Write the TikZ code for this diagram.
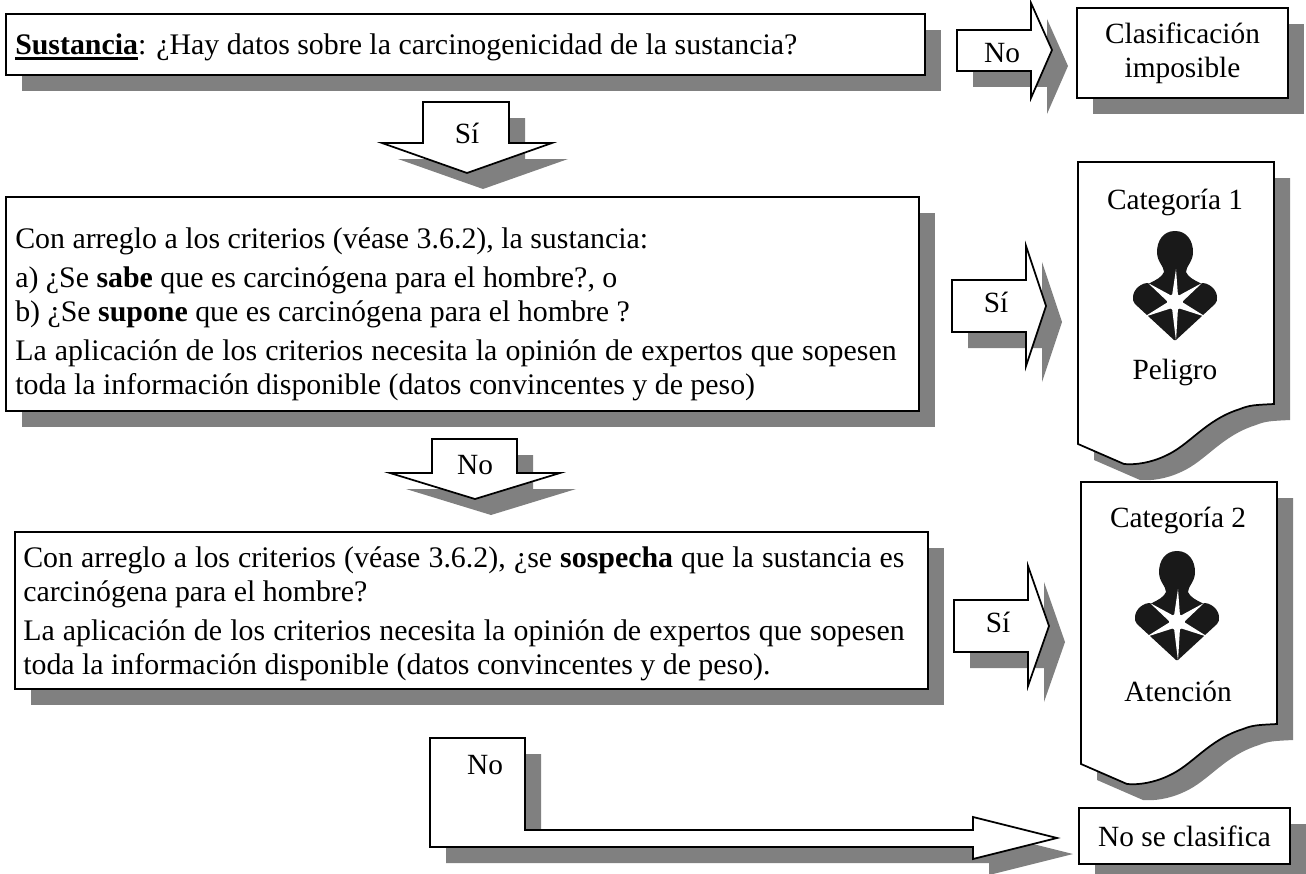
\documentclass[tikz,border=0pt]{standalone}
\usepackage{fontspec}
\setmainfont{Liberation Serif}
\usepackage{tikz}
\usetikzlibrary{shadows, positioning}
\newcommand{\subrayado}[1]{\setbox0\hbox{#1}\rlap{\rule[-3.5pt]{\wd0}{2pt}}\box0}
\definecolor{shadowgray}{RGB}{128,128,128}
\tikzset{
    shadowed/.style={drop shadow={shadow xshift=12pt, shadow yshift=-12pt, fill=shadowgray, opacity=1}},
    box/.style={rectangle, draw, fill=white, line width=1.3pt, shadowed, inner sep=0pt},
    question/.style={box, minimum width=684.75pt, inner sep=0pt},
    blockarrow/.style={draw, fill=white, line width=1.3pt, line join=miter, shadowed},
    page/.style={draw, fill=white, line width=1.3pt, shadowed},
    boxtext/.style={anchor=base west, inner sep=0pt, text width=661pt, align=justify, font=\fontsize{22.4}{25.5}\selectfont},
    label/.style={inner sep=0pt, align=center},
    hazard/.pic={
        % body with head and shoulders
        \fill[black!90] (0,-71) .. controls (12,-71) and (18,-61) .. (18,-50)
            .. controls (18,-40) and (11,-36) .. (11,-30)
            .. controls (13,-25) and (19,-22) .. (25,-19)
            .. controls (34,-20) and (42,-12) .. (42,-5)
            .. controls (42,-2) and (42,0) .. (40,2)
            -- (1,38) -- (-1,38) -- (-40,2)
            .. controls (-42,0) and (-42,-2) .. (-42,-5)
            .. controls (-42,-12) and (-34,-20) .. (-25,-19)
            .. controls (-19,-22) and (-13,-25) .. (-11,-30)
            .. controls (-11,-36) and (-18,-40) .. (-18,-50)
            .. controls (-18,-61) and (-12,-71) .. (0,-71) -- cycle;
        % cracks
        \fill[white] (1,-33) -- (3,-6) -- (27,-19) -- (7,0) -- (31,15) -- (3,6)
            -- (1,39) -- (-3,6) -- (-31,15) -- (-7,0) -- (-27,-19) -- (-3,-6) -- cycle;
        \fill[white] (0,0) circle (8);
    }
}
\begin{document}
\begin{tikzpicture}[x=0.75pt, y=-0.75pt, font=\fontsize{22}{25.5}\selectfont]
    \useasboundingbox (0,0) rectangle (1306,874);

    % Questions
    \node[box, minimum width=689.25pt, minimum height=45.75pt] (sustancia) at (465.5,44.5) {};
    \node[boxtext] (sustanciaText) at (15,55) {\subrayado{\textbf{Sustancia}}: ¿Hay datos sobre la carcinogenicidad de la sustancia?};
    \node[question, minimum height=160.5pt] (criterios) at (462.5,304) {};
    \node[boxtext] (criteriosText) at (15,248) {Con arreglo a los criterios (véase 3.6.2), la sustancia:\\[4pt]
        a) ¿Se \textbf{sabe} que es carcinógena para el hombre?, o\\
        b) ¿Se \textbf{supone} que es carcinógena para el hombre ?\\[4pt]
        La aplicación de los criterios necesita la opinión de expertos que sopesen\linebreak
        toda la información disponible (datos convincentes y de peso)};
    \node[question, minimum height=117.75pt] (sospecha) at (471.5,610.5) {};
    \node[boxtext] (sospechaText) at (23,567) {Con arreglo a los criterios (véase 3.6.2), ¿se \textbf{sospecha} que la sustancia es\linebreak
        carcinógena para el hombre?\\[4pt]
        La aplicación de los criterios necesita la opinión de expertos que sopesen\linebreak
        toda la información disponible (datos convincentes y de peso).};

    % Results
    \node[box, minimum width=158.25pt, minimum height=67.5pt, align=center] (imposible) at (1182.5,53) {Clasificación\\imposible};
    \node[box, minimum width=158.25pt, minimum height=42pt] (noclasifica) at (1184.5,836) {No se clasifica};

    % Categories
    \draw[page] (1078,162) -- (1274,162) -- (1274,404)
        .. controls (1255,405) and (1250,405) .. (1240,409)
        .. controls (1205,420) and (1190,445) .. (1165,456)
        .. controls (1150,463) and (1135,465) .. (1124,464)
        -- (1078,444) -- cycle;
    \node[label] (cat1) at (1175,202) {Categoría 1};
    \pic at (1175,302) {hazard};
    \node[label] (peligro) at (1175,372) {Peligro};

    \draw[page] (1081,482) -- (1277,482) -- (1277,724)
        .. controls (1258,725) and (1253,725) .. (1243,729)
        .. controls (1208,740) and (1193,765) .. (1168,776)
        .. controls (1153,783) and (1138,785) .. (1127,784)
        -- (1081,764) -- cycle;
    \node[label] (cat2) at (1178,520) {Categoría 2};
    \pic at (1177,622) {hazard};
    \node[label] (atencion) at (1178,691) {Atención};

    % Block arrows
    \draw[blockarrow] (957,30) -- (1031,30) -- (1031,3) -- (1052,50) -- (1031,98) -- (1031,71) -- (957,71) -- cycle;
    \node[label] (noA) at (1002,53) {No};
    \draw[blockarrow] (423,102) -- (509,102) -- (509,143) -- (552,143) -- (467,173) -- (382,143) -- (423,143) -- cycle;
    \node[label] (siA) at (467,133) {Sí};
    \draw[blockarrow] (952,280) -- (1026,280) -- (1026,246) -- (1046,306) -- (1026,366) -- (1026,332) -- (952,332) -- cycle;
    \node[label] (siB) at (996,302) {Sí};
    \draw[blockarrow] (432,439) -- (517,439) -- (517,473) -- (560,473) -- (475,499) -- (390,473) -- (432,473) -- cycle;
    \node[label] (noB) at (475,465) {No};
    \draw[blockarrow] (954,600) -- (1028,600) -- (1028,566) -- (1049,626) -- (1028,686) -- (1028,652) -- (954,652) -- cycle;
    \node[label] (siC) at (998,622) {Sí};
    \draw[blockarrow] (430,738) -- (525,738) -- (525,830) -- (973,830) -- (973,817) -- (1057,838) -- (973,859) -- (973,847) -- (430,847) -- cycle;
    \node[label] (noC) at (485,765) {No};
\end{tikzpicture}
\end{document}
